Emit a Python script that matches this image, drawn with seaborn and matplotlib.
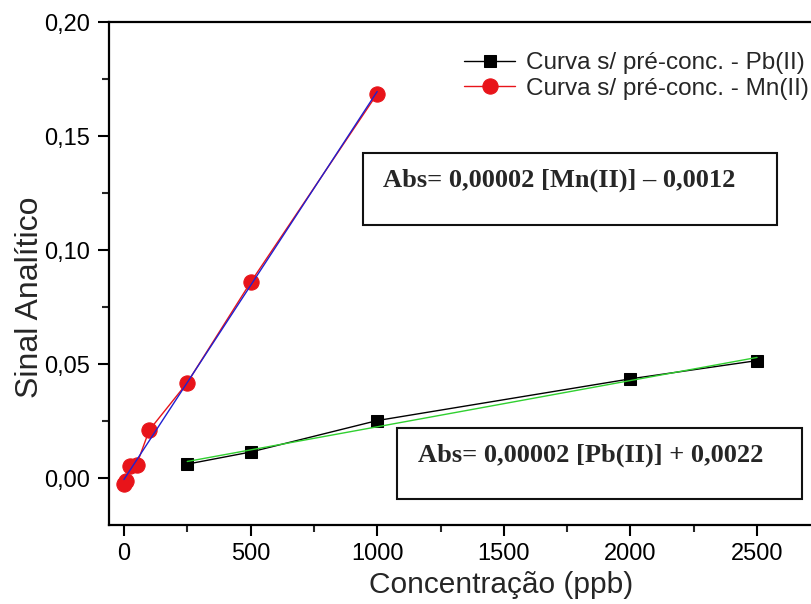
import numpy as np
import pandas as pd
import matplotlib
matplotlib.use("Agg")
import matplotlib.pyplot as plt
import seaborn as sns
from matplotlib.patches import Rectangle
from matplotlib.ticker import FuncFormatter, MultipleLocator

# ---- data ----
mn_conc = [0, 10, 25, 50, 100, 250, 500, 1000]
mn_signal = [-0.0025, -0.0015, 0.0052, 0.0058, 0.021, 0.0418, 0.0858, 0.1685]
pb_conc = [250, 500, 1000, 2000, 2500]
pb_signal = [0.0061, 0.0114, 0.0252, 0.0435, 0.0515]

pb_label = "Curva s/ pré-conc. - Pb(II)"
mn_label = "Curva s/ pré-conc. - Mn(II)"
eq_mn = "Abs= 0,00002 [Mn(II)] – 0,0012"
eq_pb = "Abs= 0,00002 [Pb(II)] + 0,0022"
xlabel = "Concentração (ppb)"
ylabel = "Sinal Analítico"

df_mn = pd.DataFrame({"x": mn_conc, "y": mn_signal})
df_pb = pd.DataFrame({"x": pb_conc, "y": pb_signal})

sns.set_style("ticks")
plt.rcParams["font.family"] = ["Liberation Sans", "DejaVu Sans"]

W, H = 811, 604
fig = plt.figure(figsize=(W / 100, H / 100), dpi=100)
ax = fig.add_axes([109 / W, (H - 525) / H, 1 - 109 / W, (525 - 22) / H])

# fit lines
sns.regplot(data=df_mn, x="x", y="y", scatter=False, ci=None, ax=ax,
            color="#2020d0", line_kws={"lw": 1.0, "zorder": 3})
sns.regplot(data=df_pb, x="x", y="y", scatter=False, ci=None, ax=ax,
            color="#30d030", line_kws={"lw": 1.0, "zorder": 3})

# data series
sns.lineplot(data=df_pb, x="x", y="y", ax=ax, color="black", lw=1.0,
             marker="s", markersize=9, markeredgecolor="black",
             label=pb_label, zorder=2)
sns.lineplot(data=df_mn, x="x", y="y", ax=ax, color="#e8141a", lw=1.0,
             marker="o", markersize=11, markeredgecolor="#e8141a",
             label=mn_label, zorder=2)

ax.set_xlim(-59, 2713)
ax.set_ylim(-0.0206, 0.20)

ax.xaxis.set_major_locator(MultipleLocator(500))
ax.xaxis.set_minor_locator(MultipleLocator(250))
ax.yaxis.set_major_locator(MultipleLocator(0.05))
ax.yaxis.set_minor_locator(MultipleLocator(0.025))
ax.yaxis.set_major_formatter(FuncFormatter(lambda v, p: f"{v:.2f}".replace(".", ",")))
ax.xaxis.set_major_formatter(FuncFormatter(lambda v, p: f"{v:.0f}"))

ax.tick_params(axis="both", which="major", direction="out", length=8, width=1.5,
               labelsize=17, colors="black")
ax.tick_params(axis="both", which="minor", direction="out", length=5, width=1.5)
ax.tick_params(axis="x", pad=5)
ax.tick_params(axis="y", pad=6)

for side in ["left", "bottom", "top"]:
    ax.spines[side].set_visible(True)
    ax.spines[side].set_linewidth(1.6)
    ax.spines[side].set_color("black")
ax.spines["right"].set_visible(False)

ax.set_xlabel(xlabel, fontsize=21.5)
ax.set_ylabel(ylabel, fontsize=23)
ax.xaxis.label.set_va("center")
ax.yaxis.label.set_va("center")
ax.xaxis.set_label_coords((501 - 109) / 702, (525 - 585) / 503)
ax.yaxis.set_label_coords((30 - 109) / 702, (525 - 297) / 503)

leg = ax.legend(loc="upper right", bbox_to_anchor=(809 / W, (H - 52) / H),
                bbox_transform=fig.transFigure, frameon=False, fontsize=17.5,
                handlelength=2.1, handletextpad=0.45, labelspacing=0.15,
                borderaxespad=0, borderpad=0)

# equation boxes
fig.patches.append(Rectangle((363 / W, (H - 225) / H), 414 / W, 72 / H,
                             transform=fig.transFigure, fill=False,
                             edgecolor="#111111", lw=1.5, zorder=5))
fig.text(383 / W, (H - 180) / H, eq_mn, fontsize=19, fontweight="bold",
         family=["Liberation Serif", "DejaVu Serif"], va="center", ha="left")
fig.patches.append(Rectangle((397 / W, (H - 499) / H), 405 / W, 71 / H,
                             transform=fig.transFigure, fill=False,
                             edgecolor="#111111", lw=1.5, zorder=5))
fig.text(418 / W, (H - 455) / H, eq_pb, fontsize=19, fontweight="bold",
         family=["Liberation Serif", "DejaVu Serif"], va="center", ha="left")

fig.savefig("out.png", dpi=100)
